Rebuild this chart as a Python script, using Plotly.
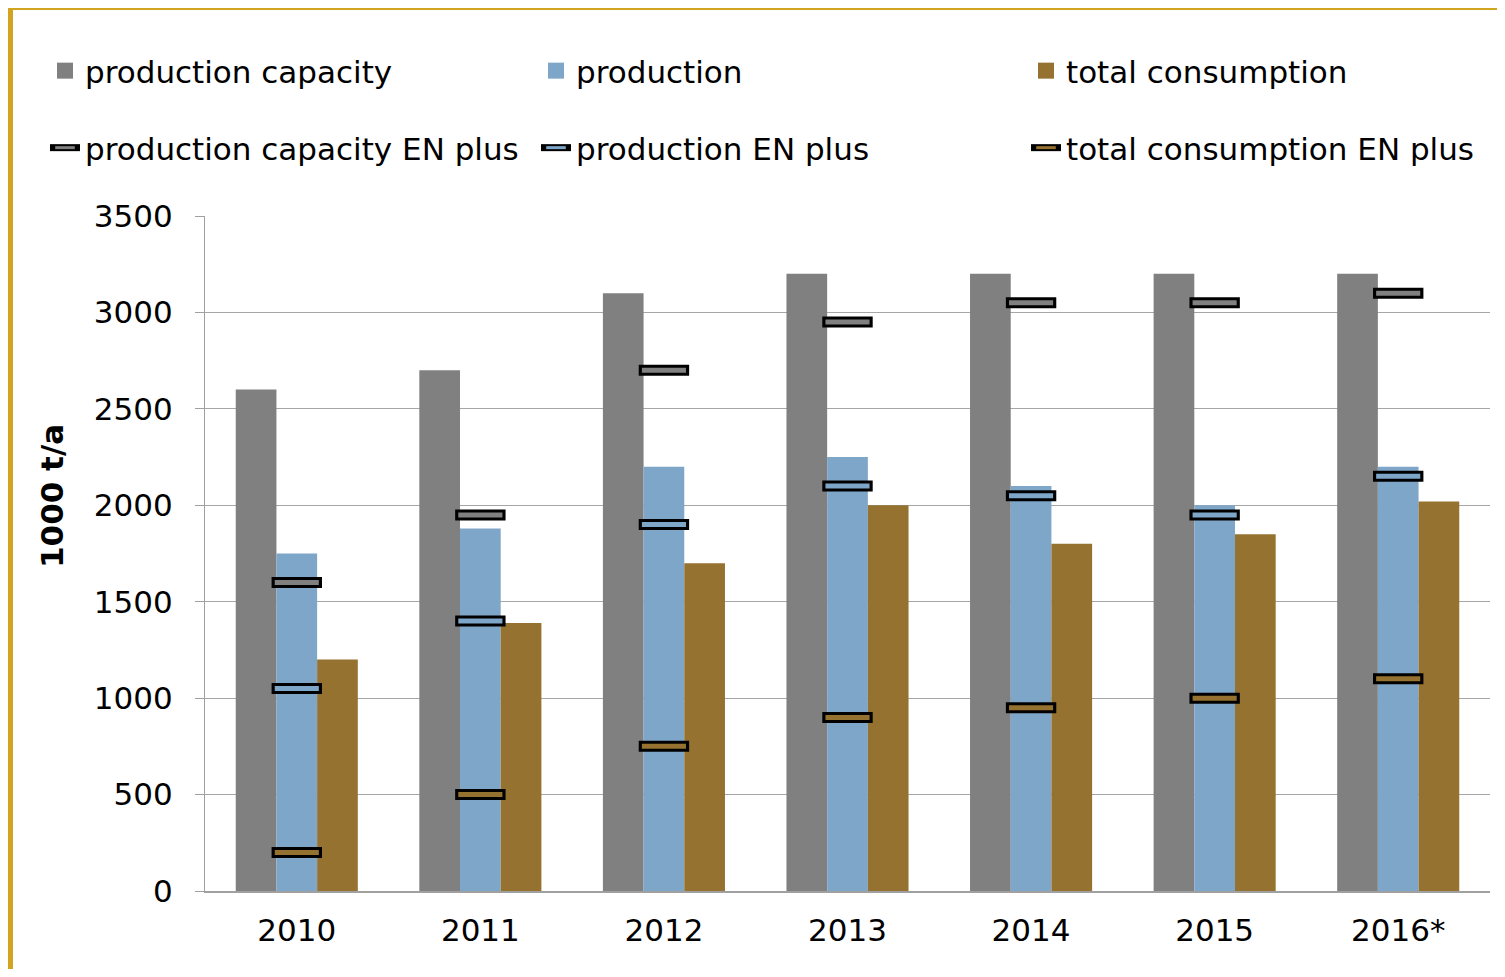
import plotly.graph_objects as go

years = ["2010", "2011", "2012", "2013", "2014", "2015", "2016*"]
capacity = [2600, 2700, 3100, 3200, 3200, 3200, 3200]
production = [1750, 1880, 2200, 2250, 2100, 2000, 2200]
consumption = [1200, 1390, 1700, 2000, 1800, 1850, 2020]
capacity_en = [1600, 1950, 2700, 2950, 3050, 3050, 3100]
production_en = [1050, 1400, 1900, 2100, 2050, 1950, 2150]
consumption_en = [200, 500, 750, 900, 950, 1000, 1100]

C_GRAY = "#808080"
C_BLUE = "#7EA6C9"
C_BROWN = "#967230"
GOLD = "#D2A520"
FONT = "DejaVu Sans, sans-serif"
FS = 31

# page has an 8px body margin; figure coords = reference coords - 8
OFF = 8
W, H = 1489, 961
L, T = 205 - OFF, 216 - OFF
PR, PB = 1490 - OFF, 891 - OFF
pw, ph = PR - L, PB - T


def px(x):
    return (x - OFF - L) / pw


def py(y):
    return (PB - (y - OFF)) / ph


fig = go.Figure()
bar_series = [("production capacity", capacity, C_GRAY),
              ("production", production, C_BLUE),
              ("total consumption", consumption, C_BROWN)]
en_series = [("production capacity EN plus", capacity_en, C_GRAY),
             ("production EN plus", production_en, C_BLUE),
             ("total consumption EN plus", consumption_en, C_BROWN)]

for name, vals, col in bar_series:
    fig.add_trace(go.Bar(x=years, y=vals, name=name, showlegend=False,
                         marker=dict(color=col, line=dict(width=0))))

for name, vals, col in en_series:
    fig.add_trace(go.Scatter(x=years, y=vals, mode="markers", showlegend=False,
                             marker=dict(symbol="line-ew", size=36, color="black",
                                         line=dict(width=11, color="black")),
                             hoverinfo="skip"))
    fig.add_trace(go.Scatter(x=years, y=vals, mode="markers", name=name, showlegend=False,
                             marker=dict(symbol="line-ew", size=31.5, color=col,
                                         line=dict(width=5, color=col))))

# legend entries (one legend per slot)
col_text_x = [85, 576, 1066]
row_y = [71, 148]
legend_layouts = {}
k = 0
for i, (name, vals, col) in enumerate(bar_series):
    k += 1
    lname = "legend" if k == 1 else f"legend{k}"
    fig.add_trace(go.Scatter(x=[years[0]], y=[None], mode="markers", name=name,
                             legend=lname, showlegend=True,
                             marker=dict(symbol="square", size=16, color=col,
                                         line=dict(width=0))))
    legend_layouts[lname] = dict(x=px(col_text_x[i] - 40), y=py(row_y[0]))
for i, (name, vals, col) in enumerate(en_series):
    k += 1
    lname = f"legend{k}"
    fig.add_trace(go.Scatter(x=[years[0]], y=[None], mode="lines+markers", name=name,
                             legend=lname, showlegend=True,
                             line=dict(color="black", width=7),
                             marker=dict(symbol="line-ew", size=14, color=col,
                                         line=dict(width=3, color=col))))
    legend_layouts[lname] = dict(x=px(col_text_x[i] - 40), y=py(row_y[1]))

layout_legends = {}
for lname, pos in legend_layouts.items():
    layout_legends[lname] = dict(x=pos["x"], y=pos["y"], xanchor="left", yanchor="middle",
                                 orientation="v", font=dict(size=FS, family=FONT),
                                 itemsizing="trace", bgcolor="rgba(0,0,0,0)",
                                 borderwidth=0)

fig.update_layout(
    width=W, height=H,
    margin=dict(l=L, r=W - PR, t=T, b=H - PB, autoexpand=False),
    paper_bgcolor="white", plot_bgcolor="white",
    font=dict(family=FONT, size=FS, color="black"),
    barmode="group", bargap=0.335, bargroupgap=0,
    xaxis=dict(range=[-0.5, len(years) - 0.5], autorange=False,
               showgrid=False, showline=True, linecolor="#A0A0A0", linewidth=1.5,
               ticks="", tickfont=dict(size=FS), ticklabelstandoff=11),
    yaxis=dict(range=[0, 3500], autorange=False, dtick=500, showgrid=True,
               gridcolor="#A6A6A6", gridwidth=1.3,
               showline=True, linecolor="#A0A0A0", linewidth=1.3,
               ticks="outside", ticklen=9, tickcolor="#A0A0A0",
               tickfont=dict(size=FS), zeroline=False, ticklabelstandoff=16),
    annotations=[
        dict(text="<b>1000 t/a</b>", xref="paper", yref="paper",
             x=px(52), y=py(496), xanchor="center", yanchor="middle",
             textangle=-90, showarrow=False, font=dict(size=31, family=FONT)),
    ],
    shapes=[
        dict(type="rect", xref="paper", yref="paper",
             x0=px(10), x1=px(1560), y0=py(1040), y1=py(7),
             line=dict(color=GOLD, width=6), fillcolor="rgba(0,0,0,0)", layer="above"),
    ],
    **layout_legends,
)

fig.write_html("out.html")
